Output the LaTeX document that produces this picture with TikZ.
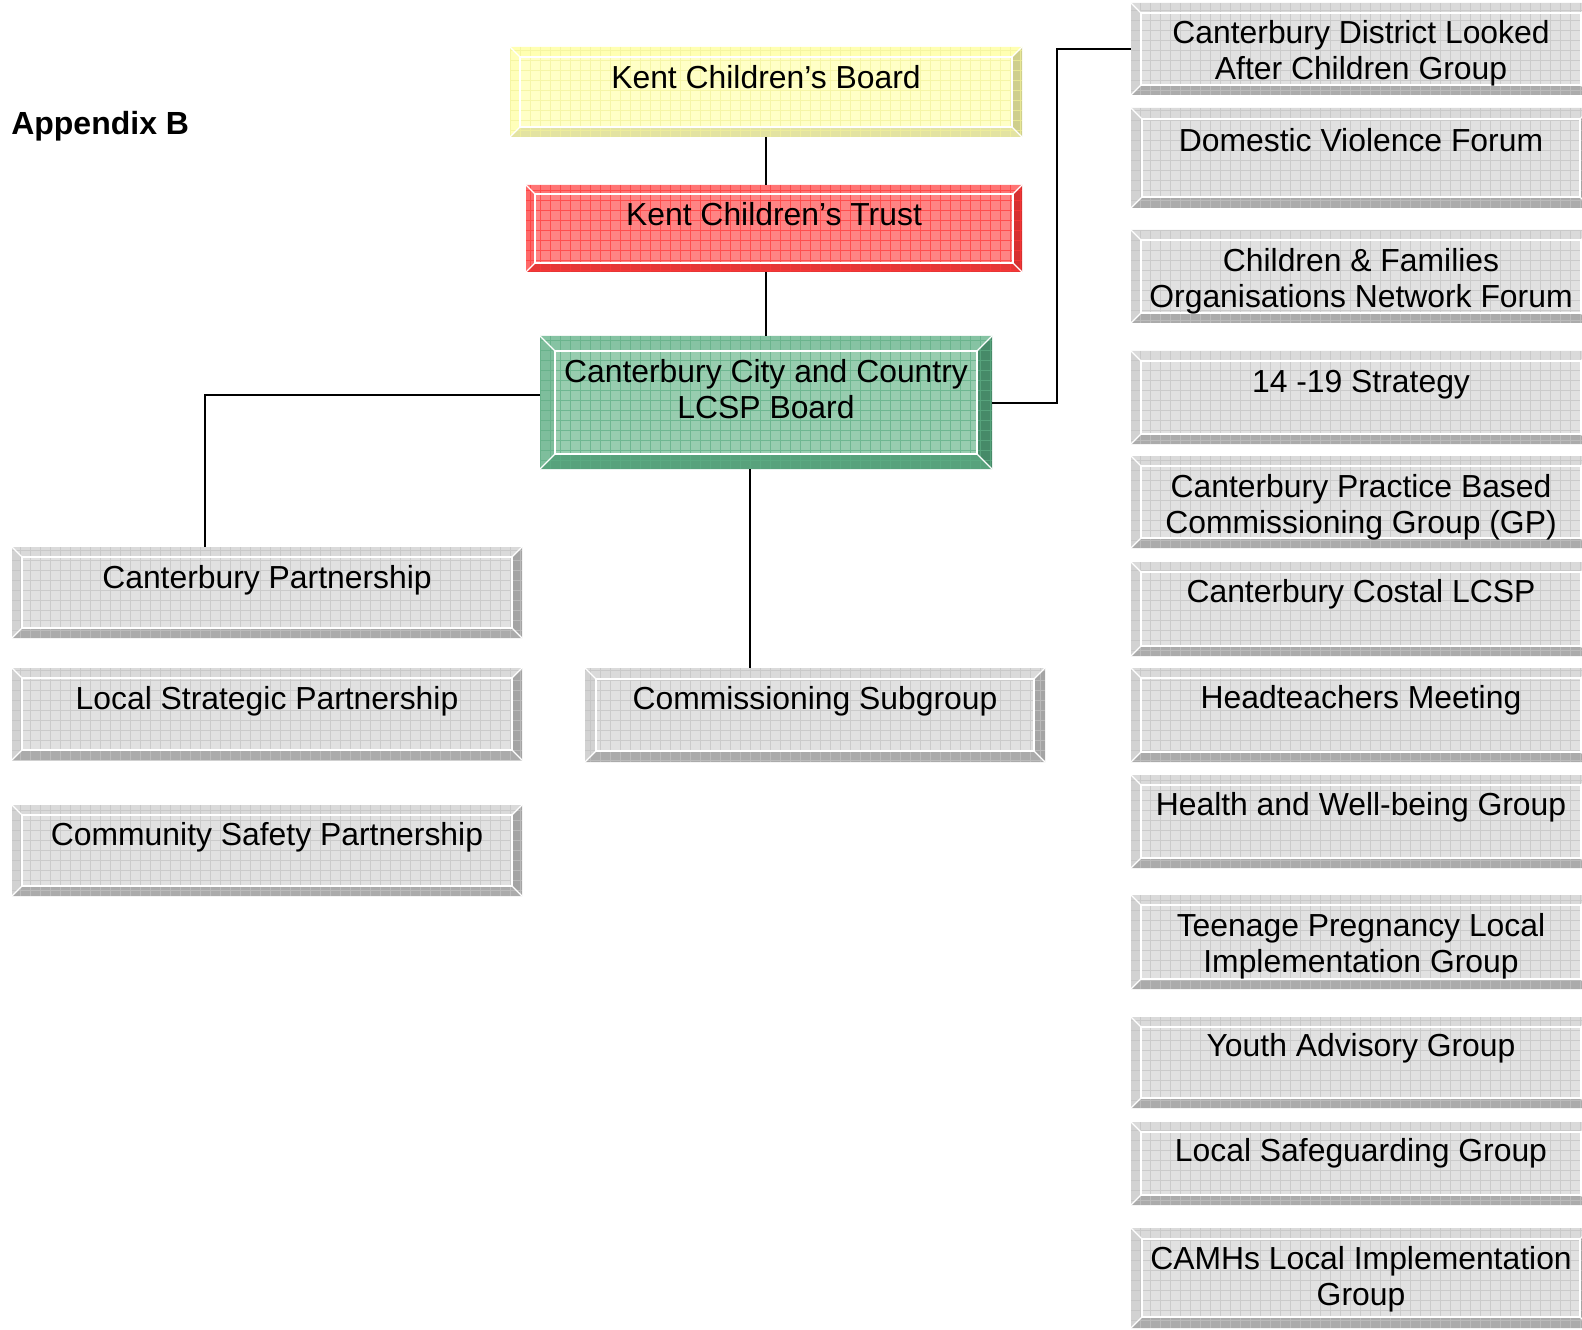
\documentclass[tikz,border=0pt]{standalone}
\usepackage{fontspec}
\setmainfont{Liberation Sans}
\usetikzlibrary{calc}
\definecolor{gface}{HTML}{E1E1E1}\definecolor{gtop}{HTML}{DADADA}\definecolor{gleft}{HTML}{D2D2D2}
\definecolor{gbot}{HTML}{ABABAB}\definecolor{gright}{HTML}{A4A4A4}\definecolor{ggrid}{HTML}{C2C2C2}
\definecolor{yface}{HTML}{FFFFC6}\definecolor{ytop}{HTML}{FFFFB2}\definecolor{yleft}{HTML}{FFFFBA}
\definecolor{ybot}{HTML}{E3E3A2}\definecolor{yright}{HTML}{CFCF8C}\definecolor{ygrid}{HTML}{F2F29A}
\definecolor{rface}{HTML}{FF8484}\definecolor{rtop}{HTML}{FF7474}\definecolor{rleft}{HTML}{FF6868}
\definecolor{rbot}{HTML}{E63636}\definecolor{rright}{HTML}{D63030}\definecolor{rgrid}{HTML}{FF3838}
\definecolor{eface}{HTML}{98CDAF}\definecolor{etop}{HTML}{86C3A3}\definecolor{eleft}{HTML}{7EBE9C}
\definecolor{ebot}{HTML}{58A27C}\definecolor{eright}{HTML}{468A68}\definecolor{egrid}{HTML}{5FAE85}
\tikzset{
  boxshape/.style={rectangle, draw=none, inner sep=0pt, outer sep=0pt},
  txt/.style={font=\fontsize{23.9}{27}\selectfont, align=center, inner sep=0pt, anchor=north},
  conn/.style={draw=black, line width=1.5pt},
}
% #1 name, #2 x1, #3 y1, #4 x2, #5 y2, #6 colour prefix, #7 bevel, #8 text offset, #9 text
\newcommand\obox[9]{%
  \node[boxshape, minimum width={(#4-#2)*0.75pt}, minimum height={(#5-#3)*0.75pt}] (#1) at ({(#2+#4)/2},{(#3+#5)/2}) {};
  \fill[#6face] (#1.north west) rectangle (#1.south east);
  \fill[#6top] (#1.north west) -- (#1.north east) -- ($(#1.north east)+(-#7,#7)$) -- ($(#1.north west)+(#7,#7)$) -- cycle;
  \fill[#6left] (#1.north west) -- ($(#1.north west)+(#7,#7)$) -- ($(#1.south west)+(#7,-#7)$) -- (#1.south west) -- cycle;
  \fill[#6bot] (#1.south west) -- (#1.south east) -- ($(#1.south east)+(-#7,-#7)$) -- ($(#1.south west)+(#7,-#7)$) -- cycle;
  \fill[#6right] (#1.north east) -- ($(#1.north east)+(-#7,#7)$) -- ($(#1.south east)+(-#7,-#7)$) -- (#1.south east) -- cycle;
  \begin{scope}
    \clip (#1.north west) rectangle (#1.south east);
    \draw[#6grid, line width=0.5pt, opacity=0.7, step=7.5pt] (#1.north west) grid (#1.south east);
  \end{scope}
  \draw[white, line width=1.3pt] ($(#1.north west)+(#7,#7)$) rectangle ($(#1.south east)+(-#7,-#7)$);
  \draw[white, line width=1pt] (#1.north west) -- ($(#1.north west)+(#7,#7)$)
     (#1.north east) -- ($(#1.north east)+(-#7,#7)$)
     (#1.south west) -- ($(#1.south west)+(#7,-#7)$)
     (#1.south east) -- ($(#1.south east)+(-#7,-#7)$);
  \node[txt] (#1-t) at ($(#1.north)+(0,#8)$) {#9};
}
\begin{document}
\begin{tikzpicture}[x=0.75pt, y=-0.75pt]
\useasboundingbox (0,0) rectangle (1582,1330);
\clip (0,0) rectangle (1582,1330);
\node[font=\fontsize{24}{27}\selectfont\bfseries, anchor=base west, inner sep=0pt] (app) at (11,135) {Appendix B};
\obox{board}{510}{47}{1022}{137}{y}{10}{18}{Kent Children’s Board}
\obox{trust}{526}{185}{1022}{272}{r}{9}{17}{Kent Children’s Trust}
\obox{lcsp}{540}{336}{992}{469}{e}{15}{23}{Canterbury City and Country\\LCSP Board}
\obox{cp}{12}{547}{522}{638}{g}{10}{18}{Canterbury Partnership}
\obox{lsp}{12}{668}{522}{760}{g}{10}{18}{Local Strategic Partnership}
\obox{csp}{12}{805}{522}{896}{g}{10}{17}{Community Safety Partnership}
\obox{cs}{585}{668}{1045}{762}{g}{11}{18}{Commissioning Subgroup}
\obox{r1}{1131}{3}{1591}{95}{g}{10}{17}{Canterbury District Looked\\After Children Group}
\obox{r2}{1131}{108}{1591}{208}{g}{11}{20}{Domestic Violence Forum}
\obox{r3}{1131}{230}{1591}{323}{g}{10}{18}{Children \& Families\\Organisations Network Forum}
\obox{r4}{1131}{351}{1591}{444}{g}{10}{19}{14 -19 Strategy}
\obox{r5}{1131}{456}{1591}{548}{g}{10}{18}{Canterbury Practice Based\\Commissioning Group (GP)}
\obox{r6}{1131}{562}{1591}{656}{g}{10}{17}{Canterbury Costal LCSP}
\obox{r7}{1131}{668}{1591}{762}{g}{10}{17}{Headteachers Meeting}
\obox{r8}{1131}{775}{1591}{868}{g}{10}{17}{Health and Well-being Group}
\obox{r9}{1131}{895}{1591}{989}{g}{10}{18}{Teenage Pregnancy Local\\Implementation Group}
\obox{r10}{1131}{1017}{1591}{1108}{g}{10}{16}{Youth Advisory Group}
\obox{r11}{1131}{1122}{1591}{1205}{g}{10}{16}{Local Safeguarding Group}
\obox{r12}{1131}{1228}{1591}{1328}{g}{11}{18}{CAMHs Local Implementation\\Group}
% connectors
\draw[conn] (board.south) -- (board.south |- trust.north);
\draw[conn] (lcsp.north) -- (lcsp.north |- trust.south);
\coordinate (lw) at ($(lcsp.west)+(0,-7.5)$);
\coordinate (cpin) at ($(cp.north)+(-62,0)$);
\draw[conn] (lw) -| (cpin);
\coordinate (lb) at ($(lcsp.south)+(-16,0)$);
\draw[conn] (lb) -- (lb |- cs.north);
\coordinate (re) at ($(lcsp.east)+(65,0)$);
\draw[conn] (lcsp.east) -- (re) |- (r1.west);
\end{tikzpicture}
\end{document}
